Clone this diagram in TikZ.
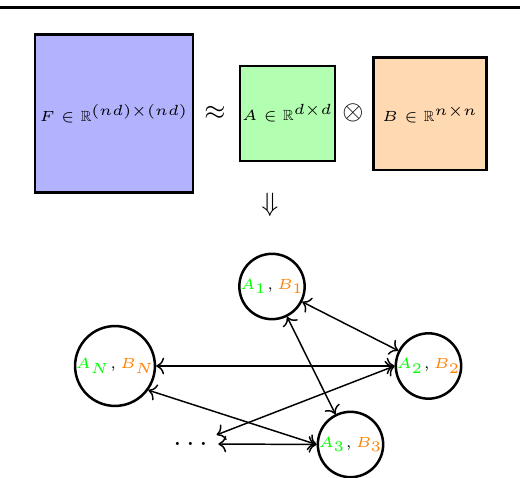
\documentclass[tikz,border=0pt]{standalone}
\usepackage{amsmath,amssymb,amsfonts}
\usepackage{xcolor}
\usepackage{tikz}
\usetikzlibrary{arrows.meta,positioning,calc}
\newcommand{\Rset}{\mathbb{R}}
\newcommand{\fa}[1]{\textcolor{green}{A_{#1}}}
\newcommand{\fb}[1]{\textcolor{orange}{B_{#1}}}

\begin{document}
\begin{tikzpicture}[x=0.34pt,y=-0.34pt,font=\tiny,
  mat/.style={draw,line width=1pt,inner sep=0pt,align=center},
  op/.style={font=\small,inner sep=0pt},
  fac/.style={draw,circle,line width=0.85pt,inner sep=0pt},
  arr/.style={<->,line width=0.5pt}]
\useasboundingbox (0,0) rectangle (520,478);
\draw[line width=1pt] (0,7.5) -- (520,7.5);
\node[mat,fill=blue!30,minimum size=53.7pt] (F) at (114,113.5) {$F\in\Rset^{(nd)\times(nd)}$};
\node[op] (approx) at (215,113) {$\approx$};
\node[mat,fill=green!30,minimum size=32.3pt] (A) at (287.5,113.5) {$A\in\Rset^{d\times d}$};
\node[op] (kron) at (353,113) {$\otimes$};
\node[mat,fill=orange!30,minimum size=38.1pt] (B) at (430,114) {$B\in\Rset^{n\times n}$};
\node[op] (down) at (270,205) {$\Downarrow$};
\node[fac] (n1) at (272,286.5) {$\fa{1},\fb{1}$};
\node[fac] (n2) at (428.5,366) {$\fa{2},\fb{2}$};
\node[fac] (n3) at (350.5,444.5) {$\fa{3},\fb{3}$};
\node[fac] (nN) at (115,366) {$\fa{N},\fb{N}$};
\node[circle,font=\normalsize,inner sep=1.5pt] (dots) at (193,444) {$\dots$};
\draw[arr] (n1) -- (n2); \draw[arr] (n1) -- (n3); \draw[arr] (nN) -- (n2);
\draw[arr] (nN.-36) -- (n3.west); \draw[arr] (dots) -- (n2.west); \draw[arr] (dots.east) -- (n3.west);
\end{tikzpicture}
\end{document}
